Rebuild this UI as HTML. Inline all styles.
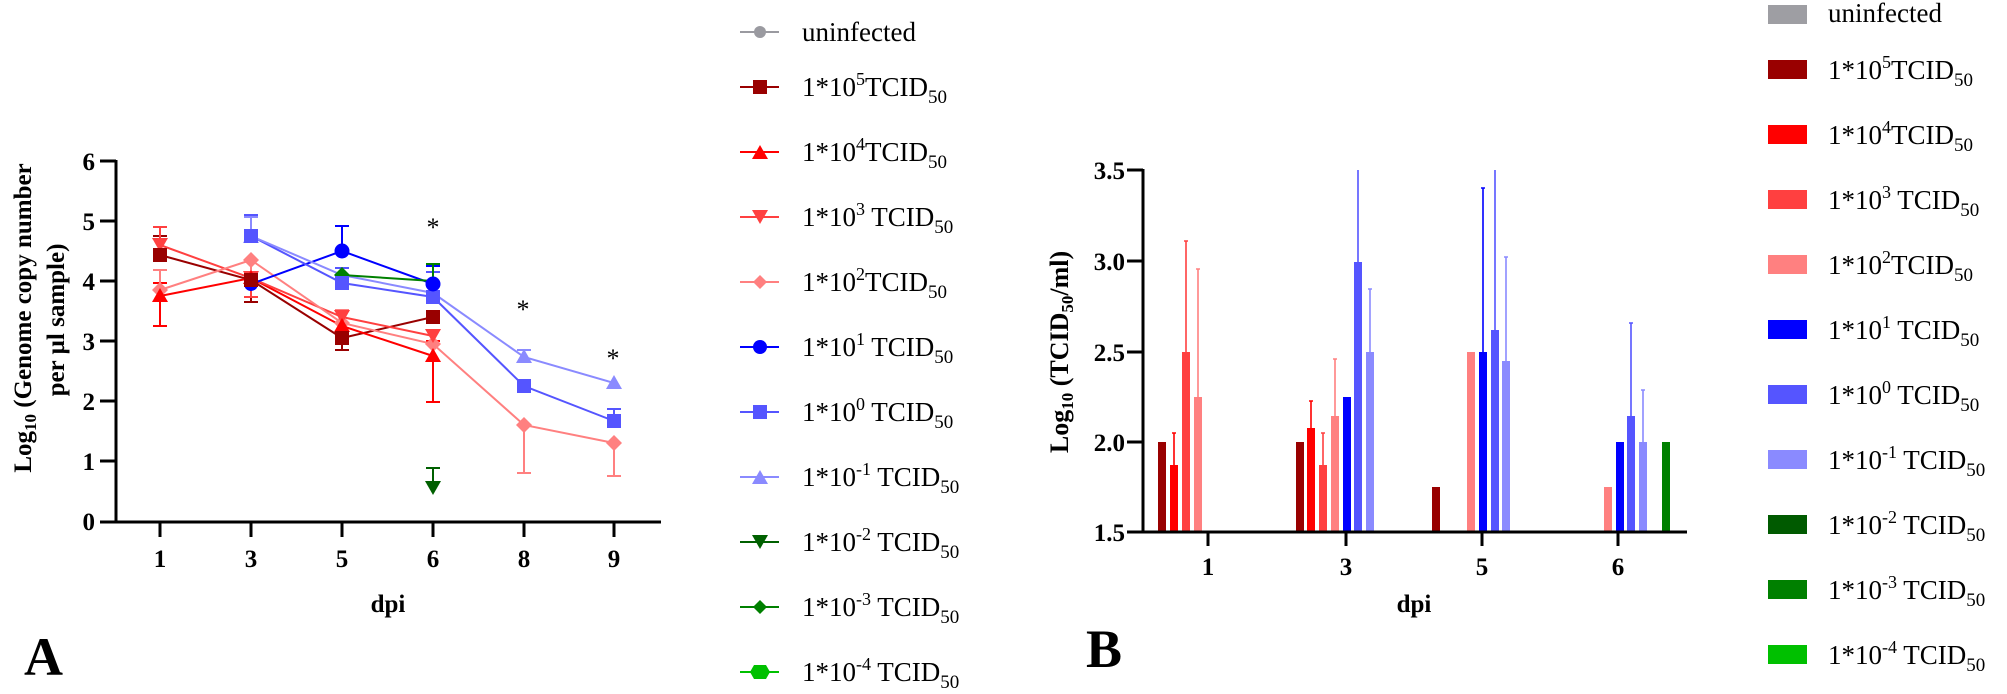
<!DOCTYPE html>
<html><head><meta charset="utf-8"><style>
html,body{margin:0;padding:0;background:#fff;}
svg{display:block;font-family:"Liberation Serif",serif;}
</style></head><body>
<svg width="2007" height="694" viewBox="0 0 2007 694" xmlns="http://www.w3.org/2000/svg">
<rect width="2007" height="694" fill="#fff"/>
<!-- Panel A axes -->
<g stroke="#000" stroke-width="3" fill="none">
<line x1="116" y1="160" x2="116" y2="523"/>
<line x1="100" y1="522" x2="661" y2="522"/>
<line x1="100" y1="161" x2="116" y2="161"/><line x1="100" y1="221" x2="116" y2="221"/><line x1="100" y1="281" x2="116" y2="281"/><line x1="100" y1="341" x2="116" y2="341"/><line x1="100" y1="401" x2="116" y2="401"/><line x1="100" y1="461" x2="116" y2="461"/>
<line x1="160" y1="522" x2="160" y2="537"/><line x1="251" y1="522" x2="251" y2="537"/><line x1="342" y1="522" x2="342" y2="537"/><line x1="433" y1="522" x2="433" y2="537"/><line x1="524" y1="522" x2="524" y2="537"/><line x1="614" y1="522" x2="614" y2="537"/>
</g>
<g font-weight="bold" font-size="25" text-anchor="end">
<text x="95" y="170">6</text><text x="95" y="230">5</text><text x="95" y="290">4</text><text x="95" y="350">3</text><text x="95" y="410">2</text><text x="95" y="470">1</text><text x="95" y="530">0</text>
</g>
<g font-weight="bold" font-size="25" text-anchor="middle">
<text x="160" y="567">1</text><text x="251" y="567">3</text><text x="342" y="567">5</text><text x="433" y="567">6</text><text x="524" y="567">8</text><text x="614" y="567">9</text>
<text x="388" y="612">dpi</text>
</g>
<text x="24" y="675" font-weight="bold" font-size="54">A</text>
<g font-weight="bold" font-size="25" text-anchor="middle">
<text transform="translate(31,318) rotate(-90)">Log<tspan font-size="17" dy="5">10</tspan><tspan dy="-5"> (Genome copy number</tspan></text>
<text transform="translate(64,320) rotate(-90)">per µl sample)</text>
</g>
<!-- stars -->
<g font-size="26" text-anchor="middle"><text x="433" y="236">*</text><text x="523" y="318">*</text><text x="613" y="367">*</text></g>
<!-- Series A -->
<g fill="none" stroke-width="2">
<g stroke="#990000"><path d="M160 255V236M153 236h14M251 280V302M244 302h14M342 338V350M335 350h14"/></g>
<g stroke="#ff0000"><path d="M160 283V326M153 283h14M153 326h14M433 341V402M426 402h14M426 341h14M342 326V311M335 311h14"/></g>
<g stroke="#ff4040"><path d="M160 245V227M153 227h14M251 278V297M244 297h14M433 336V330M426 330h14"/></g>
<g stroke="#ff8080"><path d="M160 290V270M153 270h14M251 260V290M244 260h14M524 425V473M517 425h14M517 473h14M614 443V476M607 476h14M342 323V310M335 310h14"/></g>
<g stroke="#0000ff"><path d="M342 251V226M335 226h14M433 284V266M426 266h14"/></g>
<g stroke="#5555ff"><path d="M251 236V215M244 215h14M433 297V272M426 272h14M614 421V409M607 409h14M342 283V268M335 268h14"/></g>
<g stroke="#8a8aff"><path d="M524 357V350M517 350h14M251 236V217M244 217h14"/></g>
<g stroke="#006000"><path d="M433 488V468M426 468h14"/></g>
<g stroke="#008000"><path d="M433 281V264M426 264h14"/></g>
<polyline stroke="#990000" points="160,255 251,280 342,338 433,317"/>
<polyline stroke="#ff0000" points="160,296 251,278 342,326 433,356"/>
<polyline stroke="#ff4040" points="160,245 251,278 342,317 433,336"/>
<polyline stroke="#ff8080" points="160,290 251,260 342,323 433,344 524,425 614,443"/>
<polyline stroke="#0000ff" points="251,284 342,251 433,284"/>
<polyline stroke="#5555ff" points="251,236 342,283 433,297 524,386 614,421"/>
<polyline stroke="#8a8aff" points="251,236 342,275 433,293 524,357 614,383"/>
<polyline stroke="#008000" points="342,275 433,281"/>
</g>
<!-- markers -->
<g>
<g fill="#8a8aff"><path d="M524 349l8 14h-16z"/><path d="M614 375l8 14h-16z"/><path d="M251 229l8 14h-16z"/></g>
<g fill="#008000"><path d="M342 267l8 8-8 8-8-8z"/></g>
<g fill="#ff8080"><path d="M160 282l8 8-8 8-8-8z"/><path d="M251 252l8 8-8 8-8-8z"/><path d="M342 315l8 8-8 8-8-8z"/><path d="M433 336l8 8-8 8-8-8z"/><path d="M524 417l8 8-8 8-8-8z"/><path d="M614 435l8 8-8 8-8-8z"/></g>
<g fill="#ff4040"><path d="M152 238h16l-8 14z"/><path d="M243 271h16l-8 14z"/><path d="M334 310h16l-8 14z"/><path d="M425 329h16l-8 14z"/></g>
<g fill="#ff0000"><path d="M160 288l8 14h-16z"/><path d="M251 270l8 14h-16z"/><path d="M342 318l8 14h-16z"/><path d="M433 348l8 14h-16z"/></g>
<g fill="#5555ff"><rect x="244" y="229" width="14" height="14"/><rect x="335" y="276" width="14" height="14"/><rect x="426" y="290" width="14" height="14"/><rect x="517" y="379" width="14" height="14"/><rect x="607" y="414" width="14" height="14"/></g>
<g fill="#0000ff"><circle cx="251" cy="284" r="7"/><circle cx="342" cy="251" r="7.5"/><circle cx="433" cy="284" r="7.5"/></g>
<g fill="#990000"><rect x="153" y="248" width="14" height="14"/><rect x="244" y="273" width="14" height="14"/><rect x="335" y="331" width="14" height="14"/><rect x="426" y="310" width="14" height="14"/></g>
<path fill="#006000" d="M425 481h16l-8 14z"/>
</g>
<!-- Legend A -->
<g stroke-width="2">
<line x1="740" y1="32" x2="779" y2="32" stroke="#9a9aa0"/><circle cx="760" cy="32" r="6" fill="#9a9aa0"/>
<line x1="740" y1="87" x2="779" y2="87" stroke="#990000"/><rect x="753" y="80" width="14" height="14" fill="#990000"/>
<line x1="740" y1="152" x2="779" y2="152" stroke="#ff0000"/><path d="M760 145l8 14h-16z" fill="#ff0000"/>
<line x1="740" y1="217" x2="779" y2="217" stroke="#ff4040"/><path d="M752 210h16l-8 14z" fill="#ff4040"/>
<line x1="740" y1="282" x2="779" y2="282" stroke="#ff8080"/><path d="M760 275l7 7-7 7-7-7z" fill="#ff8080"/>
<line x1="740" y1="347" x2="779" y2="347" stroke="#0000ff"/><circle cx="760" cy="347" r="7" fill="#0000ff"/>
<line x1="740" y1="412" x2="779" y2="412" stroke="#5555ff"/><rect x="753" y="405" width="14" height="14" fill="#5555ff"/>
<line x1="740" y1="477" x2="779" y2="477" stroke="#8a8aff"/><path d="M760 470l8 14h-16z" fill="#8a8aff"/>
<line x1="740" y1="542" x2="779" y2="542" stroke="#006000"/><path d="M752 535h16l-8 14z" fill="#006000"/>
<line x1="740" y1="607" x2="779" y2="607" stroke="#008000"/><path d="M760 600l7 7-7 7-7-7z" fill="#008000"/>
<line x1="740" y1="672" x2="779" y2="672" stroke="#00c000"/><path d="M754 665h12l4 7-4 7h-12l-4-7z" fill="#00c000"/>
</g>
<g font-size="27" fill="#000">
<text x="802" y="41">uninfected</text>
<text x="802" y="96">1*10<tspan font-size="18" dy="-11">5</tspan><tspan dy="11">TCID</tspan><tspan font-size="19" dy="7">50</tspan></text>
<text x="802" y="161">1*10<tspan font-size="18" dy="-11">4</tspan><tspan dy="11">TCID</tspan><tspan font-size="19" dy="7">50</tspan></text>
<text x="802" y="226">1*10<tspan font-size="18" dy="-11">3</tspan><tspan dy="11"> TCID</tspan><tspan font-size="19" dy="7">50</tspan></text>
<text x="802" y="291">1*10<tspan font-size="18" dy="-11">2</tspan><tspan dy="11">TCID</tspan><tspan font-size="19" dy="7">50</tspan></text>
<text x="802" y="356">1*10<tspan font-size="18" dy="-11">1</tspan><tspan dy="11"> TCID</tspan><tspan font-size="19" dy="7">50</tspan></text>
<text x="802" y="421">1*10<tspan font-size="18" dy="-11">0</tspan><tspan dy="11"> TCID</tspan><tspan font-size="19" dy="7">50</tspan></text>
<text x="802" y="486">1*10<tspan font-size="18" dy="-11">-1</tspan><tspan dy="11"> TCID</tspan><tspan font-size="19" dy="7">50</tspan></text>
<text x="802" y="551">1*10<tspan font-size="18" dy="-11">-2</tspan><tspan dy="11"> TCID</tspan><tspan font-size="19" dy="7">50</tspan></text>
<text x="802" y="616">1*10<tspan font-size="18" dy="-11">-3</tspan><tspan dy="11"> TCID</tspan><tspan font-size="19" dy="7">50</tspan></text>
<text x="802" y="681">1*10<tspan font-size="18" dy="-11">-4</tspan><tspan dy="11"> TCID</tspan><tspan font-size="19" dy="7">50</tspan></text>
</g>
<!-- Panel B -->
<g>
<g>
<rect x="1158" y="442" width="8" height="90" fill="#990000"/>
<rect x="1170" y="465" width="8" height="67" fill="#ff0000"/>
<rect x="1182" y="352" width="8" height="180" fill="#ff4040"/>
<rect x="1194" y="397" width="8" height="135" fill="#ff8080"/>
<rect x="1296" y="442" width="8" height="90" fill="#990000"/>
<rect x="1307" y="428" width="8" height="104" fill="#ff0000"/>
<rect x="1319" y="465" width="8" height="67" fill="#ff4040"/>
<rect x="1331" y="416" width="8" height="116" fill="#ff8080"/>
<rect x="1343" y="397" width="8" height="135" fill="#0000ff"/>
<rect x="1354" y="262" width="8" height="270" fill="#5555ff"/>
<rect x="1366" y="352" width="8" height="180" fill="#8a8aff"/>
<rect x="1432" y="487" width="8" height="45" fill="#990000"/>
<rect x="1467" y="352" width="8" height="180" fill="#ff8080"/>
<rect x="1479" y="352" width="8" height="180" fill="#0000ff"/>
<rect x="1491" y="330" width="8" height="202" fill="#5555ff"/>
<rect x="1502" y="361" width="8" height="171" fill="#8a8aff"/>
<rect x="1604" y="487" width="8" height="45" fill="#ff8080"/>
<rect x="1616" y="442" width="8" height="90" fill="#0000ff"/>
<rect x="1627" y="416" width="8" height="116" fill="#5555ff"/>
<rect x="1639" y="442" width="8" height="90" fill="#8a8aff"/>
<rect x="1662" y="442" width="8" height="90" fill="#008000"/>
</g>
<g stroke-width="1.6" fill="none">
<path stroke="#ff0000" d="M1174 465V433M1172 433h4M1311 428V401M1309 401h4"/>
<path stroke="#ff4040" d="M1186 352V241M1184 241h4M1323 465V433M1321 433h4"/>
<path stroke="#ff8080" d="M1198 397V269M1196 269h4M1335 416V359M1333 359h4"/>
<path stroke="#5555ff" d="M1358 262V170M1495 330V170M1631 416V323M1629 323h4"/>
<path stroke="#8a8aff" d="M1370 352V289M1368 289h4M1506 361V257M1504 257h4M1643 442V390M1641 390h4"/>
<path stroke="#0000ff" d="M1483 352V188M1481 188h4"/>
</g>
<g stroke="#000" stroke-width="3" fill="none">
<line x1="1143" y1="169" x2="1143" y2="533"/>
<line x1="1127" y1="170" x2="1143" y2="170"/><line x1="1127" y1="261" x2="1143" y2="261"/><line x1="1127" y1="352" x2="1143" y2="352"/><line x1="1127" y1="442" x2="1143" y2="442"/>
<line x1="1127" y1="532" x2="1687" y2="532"/>
<line x1="1208" y1="532" x2="1208" y2="546"/><line x1="1346" y1="532" x2="1346" y2="546"/><line x1="1482" y1="532" x2="1482" y2="546"/><line x1="1618" y1="532" x2="1618" y2="546"/>
</g>
<g font-weight="bold" font-size="25" text-anchor="end">
<text x="1125" y="179">3.5</text><text x="1125" y="270">3.0</text><text x="1125" y="361">2.5</text><text x="1125" y="451">2.0</text><text x="1125" y="541">1.5</text>
</g>
<g font-weight="bold" font-size="25" text-anchor="middle">
<text x="1208" y="575">1</text><text x="1346" y="575">3</text><text x="1482" y="575">5</text><text x="1618" y="575">6</text>
<text x="1414" y="612">dpi</text>
</g>
<text transform="translate(1068,352) rotate(-90)" font-weight="bold" font-size="26" text-anchor="middle">Log<tspan font-size="17" dy="5">10</tspan><tspan dy="-5"> (TCID</tspan><tspan font-size="17" dy="5">50</tspan><tspan dy="-5">/ml)</tspan></text>
<text x="1086" y="667" font-weight="bold" font-size="54">B</text>
</g>
<!-- Legend B -->
<g>
<rect x="1768" y="5" width="39" height="19" fill="#9e9ea3"/>
<rect x="1768" y="60" width="39" height="19" fill="#990000"/>
<rect x="1768" y="125" width="39" height="19" fill="#ff0000"/>
<rect x="1768" y="190" width="39" height="19" fill="#ff4040"/>
<rect x="1768" y="255" width="39" height="19" fill="#ff8080"/>
<rect x="1768" y="320" width="39" height="19" fill="#0000ff"/>
<rect x="1768" y="385" width="39" height="19" fill="#5555ff"/>
<rect x="1768" y="450" width="39" height="19" fill="#8a8aff"/>
<rect x="1768" y="515" width="39" height="19" fill="#005a00"/>
<rect x="1768" y="580" width="39" height="19" fill="#008000"/>
<rect x="1768" y="645" width="39" height="19" fill="#00c000"/>
</g>
<g font-size="27" fill="#000">
<text x="1828" y="22">uninfected</text>
<text x="1828" y="79">1*10<tspan font-size="18" dy="-11">5</tspan><tspan dy="11">TCID</tspan><tspan font-size="19" dy="7">50</tspan></text>
<text x="1828" y="144">1*10<tspan font-size="18" dy="-11">4</tspan><tspan dy="11">TCID</tspan><tspan font-size="19" dy="7">50</tspan></text>
<text x="1828" y="209">1*10<tspan font-size="18" dy="-11">3</tspan><tspan dy="11"> TCID</tspan><tspan font-size="19" dy="7">50</tspan></text>
<text x="1828" y="274">1*10<tspan font-size="18" dy="-11">2</tspan><tspan dy="11">TCID</tspan><tspan font-size="19" dy="7">50</tspan></text>
<text x="1828" y="339">1*10<tspan font-size="18" dy="-11">1</tspan><tspan dy="11"> TCID</tspan><tspan font-size="19" dy="7">50</tspan></text>
<text x="1828" y="404">1*10<tspan font-size="18" dy="-11">0</tspan><tspan dy="11"> TCID</tspan><tspan font-size="19" dy="7">50</tspan></text>
<text x="1828" y="469">1*10<tspan font-size="18" dy="-11">-1</tspan><tspan dy="11"> TCID</tspan><tspan font-size="19" dy="7">50</tspan></text>
<text x="1828" y="534">1*10<tspan font-size="18" dy="-11">-2</tspan><tspan dy="11"> TCID</tspan><tspan font-size="19" dy="7">50</tspan></text>
<text x="1828" y="599">1*10<tspan font-size="18" dy="-11">-3</tspan><tspan dy="11"> TCID</tspan><tspan font-size="19" dy="7">50</tspan></text>
<text x="1828" y="664">1*10<tspan font-size="18" dy="-11">-4</tspan><tspan dy="11"> TCID</tspan><tspan font-size="19" dy="7">50</tspan></text>
</g>
</svg>
</body></html>
